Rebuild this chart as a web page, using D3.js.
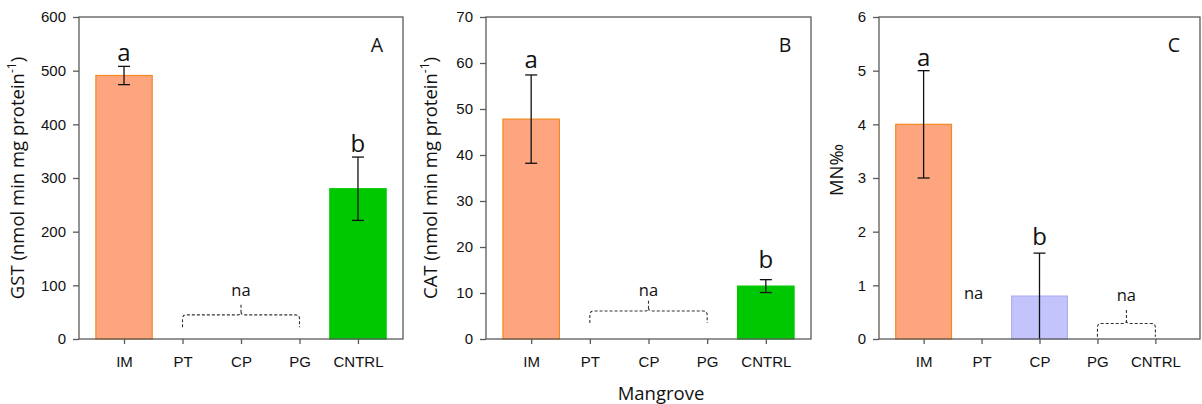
<!DOCTYPE html>
<html>
<head>
<meta charset="utf-8">
<script src="https://cdn.jsdelivr.net/npm/d3@7"></script>
<style>
  body { margin: 0; background: #fff; }
  svg { display: block; }
</style>
</head>
<body>
<div id="chart"></div>
<script>
// categories shared by the three panels
const sites = ['IM', 'PT', 'CP', 'PG', 'CNTRL'];

// panel A - GST
const gstValues = [491, null, null, null, 280];
const gstErrors = [17, null, null, null, 59];
const gstTicks = [0, 100, 200, 300, 400, 500, 600];
const gstLetters = [{ site: 'IM', text: 'a', y: 518 }, { site: 'CNTRL', text: 'b', y: 348 }];

// panel B - CAT
const catValues = [47.8, null, null, null, 11.5];
const catErrors = [9.6, null, null, null, 1.4];
const catTicks = [0, 10, 20, 30, 40, 50, 60, 70];
const catLetters = [{ site: 'IM', text: 'a', y: 58.9 }, { site: 'CNTRL', text: 'b', y: 15.5 }];

// panel C - MN
const mnValues = [4.0, null, 0.8, null, null];
const mnErrors = [1.0, null, 0.8, null, null];
const mnTicks = [0, 1, 2, 3, 4, 5, 6];
const mnLetters = [{ site: 'IM', text: 'a', y: 5.09 }, { site: 'CP', text: 'b', y: 1.75 }];

const barColors = {
	IM: { fill: '#fda57f', stroke: '#f28a1e' },
	CP: { fill: '#c3c4fb', stroke: '#aeb0f5' },
	CNTRL: { fill: '#00c800', stroke: '#00c800' },
};

const W = 1202, H = 404;
const plotTop = 17, plotBottom = 339;
const tickFont = '"Liberation Sans", Arial, sans-serif';
const textFont = '"Open Sans", sans-serif';

const svg = d3
	.select('#chart')
	.append('svg')
	.attr('width', W)
	.attr('height', H);

function panel(opt) {
	const x = d3.scalePoint().domain(sites).range([opt.left, opt.right]).padding(0.77);
	const y = d3.scaleLinear().domain([0, opt.max]).range([plotBottom, plotTop]);
	const step = x.step();
	const g = svg.append('g');

	// bars
	const rows = sites.map((s, i) => ({ site: s, v: opt.values[i], e: opt.errors[i] }))
		.filter(d => d.v != null);
	g.selectAll('rect.bar')
		.data(rows)
		.join('rect')
		.attr('class', 'bar')
		.attr('x', d => x(d.site) - step * 0.49 + 0.5)
		.attr('width', step * 0.98 - 1)
		.attr('y', d => y(d.v))
		.attr('height', d => y(0) - y(d.v))
		.attr('fill', d => barColors[d.site].fill)
		.attr('stroke', d => barColors[d.site].stroke)
		.attr('stroke-width', 1.2);

	// error bars
	const eb = g.selectAll('g.err').data(rows).join('g').attr('class', 'err')
		.attr('stroke', '#111').attr('stroke-width', 1.3);
	eb.append('line')
		.attr('x1', d => x(d.site)).attr('x2', d => x(d.site))
		.attr('y1', d => y(d.v + d.e)).attr('y2', d => y(Math.max(0, d.v - d.e)));
	eb.append('line')
		.attr('x1', d => x(d.site) - 6).attr('x2', d => x(d.site) + 6)
		.attr('y1', d => y(d.v + d.e)).attr('y2', d => y(d.v + d.e));
	eb.filter(d => d.v - d.e > 0).append('line')
		.attr('x1', d => x(d.site) - 6).attr('x2', d => x(d.site) + 6)
		.attr('y1', d => y(d.v - d.e)).attr('y2', d => y(d.v - d.e));

	// significance letters
	g.selectAll('text.letter')
		.data(opt.letters)
		.join('text')
		.attr('class', 'letter')
		.attr('x', d => x(d.site))
		.attr('y', d => y(d.y))
		.attr('text-anchor', 'middle')
		.attr('fill', '#111')
		.style('font-family', textFont)
		.style('font-size', '24px')
		.text(d => d.text);

	// na braces
	opt.braces.forEach(b => {
		const x0 = x(b.from), x1 = x(b.to), xm = (x0 + x1) / 2;
		const yl = y(b.low), yt = y(b.top), yp = y(b.peak);
		const r = 4;
		const p = d3.path();
		p.moveTo(x0, yl);
		p.lineTo(x0, yt + r);
		p.quadraticCurveTo(x0, yt, x0 + r, yt);
		p.lineTo(xm - 3, yt);
		p.quadraticCurveTo(xm, yt, xm, yt - 3);
		p.lineTo(xm, yp);
		p.moveTo(xm, yt - 3);
		p.quadraticCurveTo(xm, yt, xm + 3, yt);
		p.lineTo(x1 - r, yt);
		p.quadraticCurveTo(x1, yt, x1, yt + r);
		p.lineTo(x1, yl);
		g.append('path')
			.attr('d', p.toString())
			.attr('fill', 'none')
			.attr('stroke', '#333')
			.attr('stroke-width', 1.1)
			.attr('stroke-dasharray', '3,2');
	});
	opt.na.forEach(n => {
		const xp = n.to ? (x(n.from) + x(n.to)) / 2 : x(n.from) - 8;
		g.append('text')
			.attr('x', xp)
			.attr('y', y(n.y))
			.attr('text-anchor', 'middle')
			.attr('fill', '#111')
			.style('font-family', textFont)
			.style('font-size', '16.5px')
			.text('na');
	});

	// frame
	g.append('rect')
		.attr('x', opt.left).attr('y', plotTop)
		.attr('width', opt.right - opt.left).attr('height', plotBottom - plotTop)
		.attr('fill', 'none').attr('stroke', '#5a5a5a').attr('stroke-width', 1.3);

	// y axis
	const ya = g.append('g')
		.attr('transform', `translate(${opt.left},0)`)
		.call(d3.axisLeft(y).tickValues(opt.ticks).tickFormat(d3.format('d')).tickSize(6).tickPadding(7));
	// x axis
	const xa = g.append('g')
		.attr('transform', `translate(0,${plotBottom})`)
		.call(d3.axisBottom(x).tickSize(5).tickPadding(12));
	[ya, xa].forEach(a => {
		a.select('.domain').remove();
		a.selectAll('line').attr('stroke', '#5a5a5a').attr('stroke-width', 1.3);
		a.selectAll('text').attr('fill', '#111')
			.style('font-family', tickFont).style('font-size', '15px');
	});

	// panel letter
	g.append('text')
		.attr('x', opt.right - 26)
		.attr('y', 52)
		.attr('text-anchor', 'middle')
		.attr('fill', '#111')
		.style('font-family', textFont)
		.style('font-size', '19.5px')
		.text(opt.tag);

	// y title
	const t = g.append('text')
		.attr('transform', `translate(${opt.labelX},${opt.labelY}) rotate(-90)`)
		.attr('text-anchor', 'middle')
		.style('font-family', textFont)
		.style('font-size', '18.5px')
		.attr('fill', '#111');
	if (opt.unit) {
		t.append('tspan').text(opt.title + ' (nmol min mg protein');
		t.append('tspan').attr('dy', -8).style('font-size', '12px').text('-1');
		t.append('tspan').attr('dy', 8).text(')');
	} else {
		t.text(opt.title);
	}
}

panel({
	left: 79, right: 403, max: 600, ticks: gstTicks,
	values: gstValues, errors: gstErrors, letters: gstLetters,
	braces: [{ from: 'PT', to: 'PG', low: 22, top: 45, peak: 67 }],
	na: [{ from: 'PT', to: 'PG', y: 80 }],
	tag: 'A', title: 'GST', unit: true, labelX: 24, labelY: 178,
});
panel({
	left: 486, right: 811, max: 70, ticks: catTicks,
	values: catValues, errors: catErrors, letters: catLetters,
	braces: [{ from: 'PT', to: 'PG', low: 3.5, top: 6.1, peak: 8.7 }],
	na: [{ from: 'PT', to: 'PG', y: 9.4 }],
	tag: 'B', title: 'CAT', unit: true, labelX: 437, labelY: 178,
});
panel({
	left: 879, right: 1200, max: 6, ticks: mnTicks,
	values: mnValues, errors: mnErrors, letters: mnLetters,
	braces: [{ from: 'PG', to: 'CNTRL', low: 0.04, top: 0.29, peak: 0.54 }],
	na: [{ from: 'PT', y: 0.75 }, { from: 'PG', to: 'CNTRL', y: 0.7 }],
	tag: 'C', title: 'MN‰', unit: false, labelX: 843, labelY: 170,
});

// shared x title
svg.append('text')
	.attr('x', 661)
	.attr('y', 400)
	.attr('text-anchor', 'middle')
	.style('font-family', textFont)
	.style('font-size', '18.5px')
	.attr('fill', '#111')
	.text('Mangrove');
</script>
</body>
</html>
